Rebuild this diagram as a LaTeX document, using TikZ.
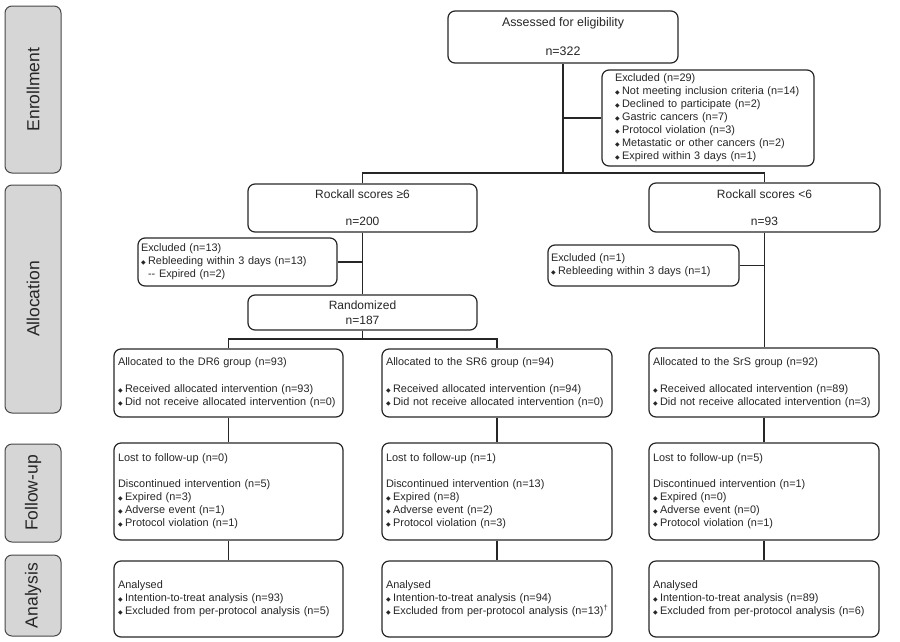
\documentclass[tikz,border=0pt]{standalone}
\usepackage{fontspec}
\setmainfont{Liberation Sans}
\newfontfamily\dejavu{DejaVu Sans}
\newcommand\bul{{\dejavu\fontsize{6}{6}\selectfont ◆}\hspace{2.5pt}}
\definecolor{sidefill}{RGB}{214,214,214}
\definecolor{ink}{RGB}{38,38,38}
\begin{document}
\begin{tikzpicture}[x=1pt,y=-1pt,
  box/.style={draw=ink, line width=1.2pt, rounded corners=7pt, inner ysep=0pt, text=ink,
    font=\fontsize{10.9}{13}\selectfont, align=left},
  topbox/.style={box, align=center, font=\fontsize{12}{14}\selectfont},
  side/.style={draw=ink!85, fill=sidefill, line width=1pt, rounded corners=7pt, rotate=90,
    font=\fontsize{17.5}{20}\selectfont, text=ink, inner sep=0pt},
  link/.style={draw=ink, line width=1.3pt}]
\useasboundingbox (0,0) rectangle (900,641);

% side labels
\node[side, minimum width=167, minimum height=56] (enr) at (33,89.5) {Enrollment};
\node[side, minimum width=228, minimum height=56] (alo) at (33,299) {Allocation};
\node[side, minimum width=98, minimum height=56] (fol) at (33,493) {Follow-up};
\node[side, minimum width=81, minimum height=56] (ana) at (33,595.5) {Analysis};

% enrollment
\node[topbox, minimum width=230, minimum height=52, font=\fontsize{12.4}{14}\selectfont] (assess) at (563,37)
  {Assessed for eligibility\\[15pt]n=322};
\node[box, inner xsep=13pt, text width=186pt, minimum height=96] (excl1) at (708,118)
  {Excluded (n=29)\\
   \bul Not meeting inclusion criteria (n=14)\\
   \bul Declined to participate (n=2)\\
   \bul Gastric cancers (n=7)\\
   \bul Protocol violation (n=3)\\
   \bul Metastatic or other cancers (n=2)\\
   \bul Expired within 3 days (n=1)};

% allocation
\node[topbox, minimum width=229, minimum height=48] (rock1) at (362.5,208)
  {Rockall scores ≥6\\[13pt]n=200};
\node[topbox, minimum width=231, minimum height=49] (rock2) at (764.5,207.5)
  {Rockall scores <6\\[13pt]n=93};
\node[box, inner xsep=3pt, text width=193pt, minimum height=48] (excl2) at (237.5,262)
  {Excluded (n=13)\\
   \bul Rebleeding within 3 days (n=13)\\
   \hphantom{\bul}{-}{-} Expired (n=2)};
\node[box, inner xsep=3pt, text width=185pt, minimum height=41] (excl3) at (643.5,265.5)
  {Excluded (n=1)\\
   \bul Rebleeding within 3 days (n=1)};
\node[topbox, minimum width=229, minimum height=35] (rand) at (362.5,312.5)
  {Randomized\\[1pt]n=187};

\node[box, inner xsep=4pt, text width=221pt, minimum height=68] (al1) at (228.5,383)
  {Allocated to the DR6 group (n=93)\\[14pt]
   \bul Received allocated intervention (n=93)\\
   \bul Did not receive allocated intervention (n=0)};
\node[box, inner xsep=4pt, text width=222pt, minimum height=68] (al2) at (497,383)
  {Allocated to the SR6 group (n=94)\\[14pt]
   \bul Received allocated intervention (n=94)\\
   \bul Did not receive allocated intervention (n=0)};
\node[box, inner xsep=4pt, text width=222pt, minimum height=69] (al3) at (764,382.5)
  {Allocated to the SrS group (n=92)\\[14pt]
   \bul Received allocated intervention (n=89)\\
   \bul Did not receive allocated intervention (n=3)};

% follow-up
\node[box, inner xsep=4pt, text width=221pt, minimum height=97] (fu1) at (228.5,491.5)
  {Lost to follow-up (n=0)\\[13pt]
   Discontinued intervention (n=5)\\
   \bul Expired (n=3)\\
   \bul Adverse event (n=1)\\
   \bul Protocol violation (n=1)};
\node[box, inner xsep=4pt, text width=222pt, minimum height=97] (fu2) at (497,491.5)
  {Lost to follow-up (n=1)\\[13pt]
   Discontinued intervention (n=13)\\
   \bul Expired (n=8)\\
   \bul Adverse event (n=2)\\
   \bul Protocol violation (n=3)};
\node[box, inner xsep=4pt, text width=222pt, minimum height=97] (fu3) at (764,491.5)
  {Lost to follow-up (n=5)\\[13pt]
   Discontinued intervention (n=1)\\
   \bul Expired (n=0)\\
   \bul Adverse event (n=0)\\
   \bul Protocol violation (n=1)};

% analysis
\node[box, inner xsep=4pt, text width=221pt, minimum height=76] (an1) at (228.5,599)
  {Analysed\\
   \bul Intention-to-treat analysis (n=93)\\
   \bul Excluded from per-protocol analysis (n=5)};
\node[box, inner xsep=4pt, text width=222pt, minimum height=76] (an2) at (497,599)
  {Analysed\\
   \bul Intention-to-treat analysis (n=94)\\
   \mbox{\bul Excluded from per-protocol analysis (n=13)\textsuperscript{†}}};
\node[box, inner xsep=4pt, text width=222pt, minimum height=76] (an3) at (764,599)
  {Analysed\\
   \bul Intention-to-treat analysis (n=89)\\
   \bul Excluded from per-protocol analysis (n=6)};

% connectors
\coordinate (j1) at (563,173);
\coordinate (j2) at (362.5,339);
\draw[link] (assess.south) -- (j1);
\draw[link] (excl1.west) -- (excl1.west -| j1);
\draw[link] (rock1.north) |- (j1) -| (rock2.north);
\draw[link] (rock1.south) -- (rand.north);
\draw[link] (excl2.east) -- (excl2.east -| rock1.south);
\draw[link] (rock2.south) -- (rock2.south |- al3.north);
\draw[link] (excl3.east) -- (excl3.east -| rock2.south);
\draw[link] (rand.south) -- (j2);
\draw[link] (al1.north) |- (j2) -| (al2.north);
\draw[link] (al1.south) -- (fu1.north);
\draw[link] (al2.south) -- (fu2.north);
\draw[link] (al3.south) -- (fu3.north);
\draw[link] (fu1.south) -- (an1.north);
\draw[link] (fu2.south) -- (an2.north);
\draw[link] (fu3.south) -- (an3.north);
\end{tikzpicture}
\end{document}
